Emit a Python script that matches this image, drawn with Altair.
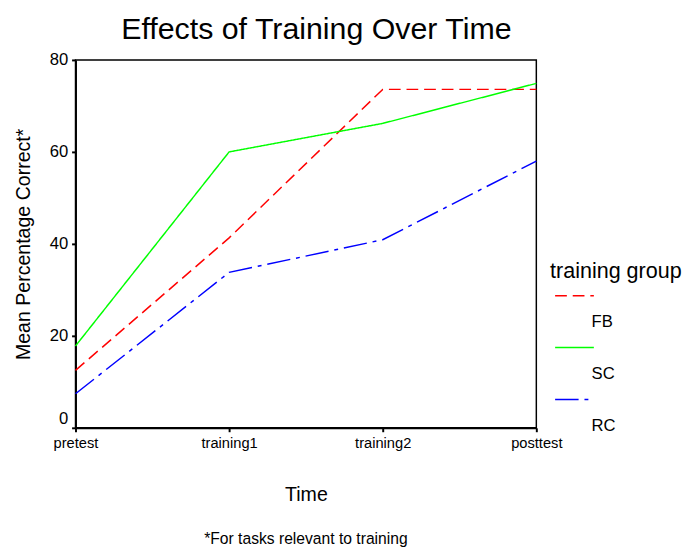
import altair as alt
import pandas as pd

times = ["pretest", "training1", "training2", "posttest"]
groups = ["FB", "SC", "RC"]
fb_vals = [12.5, 41.3, 73.6, 73.6]
sc_vals = [17.8, 60.0, 66.2, 74.9]
rc_vals = [7.4, 33.8, 40.9, 58.0]
colors = ["#FF0000", "#00FF00", "#0000FF"]
dashes = [[12, 6], [1, 0], [24, 6, 4, 6]]

rows = []
for g, vals in zip(groups, [fb_vals, sc_vals, rc_vals]):
    for t, v in zip(times, vals):
        rows.append({"Time": t, "group": g, "value": v})
df = pd.DataFrame(rows)

FONT = "Liberation Sans"
leg = alt.Legend(title="training group", labelExpr="['', datum.label]")

inner = alt.Chart(df).mark_line(strokeWidth=1.5).encode(
    x=alt.X("Time:N", sort=times,
            scale=alt.Scale(type="point", padding=0),
            axis=alt.Axis(title="Time", labelAngle=0, titlePadding=35)),
    y=alt.Y("value:Q", scale=alt.Scale(domain=[0, 80]),
            axis=alt.Axis(values=[0, 20, 40, 60, 80], title="Mean Percentage Correct*",
                          grid=False, titlePadding=16,
                          labelBaseline=alt.condition("datum.value == 0",
                                                      alt.value("bottom"),
                                                      alt.value("middle")))),
    color=alt.Color("group:N", scale=alt.Scale(domain=groups, range=colors), legend=leg),
    strokeDash=alt.StrokeDash("group:N", scale=alt.Scale(domain=groups, range=dashes),
                              legend=leg),
).properties(
    width=471, height=376,
    title=alt.Title("*For tasks relevant to training", orient="bottom",
                    fontSize=16, fontWeight="normal", font=FONT, offset=28),
)

chart = alt.vconcat(inner).properties(
    title=alt.Title("Effects of Training Over Time", fontSize=31, fontWeight="normal",
                    font=FONT, offset=5, anchor="middle", dx=-32),
    padding={"top": 0, "left": 5, "right": 5, "bottom": 5},
).configure_view(
    stroke="black", strokeWidth=1.5
).configure_axis(
    domainColor="black", domainWidth=2, tickColor="black", tickWidth=2, tickSize=4,
    labelFont=FONT, titleFont=FONT, labelColor="black", titleColor="black",
    titleFontWeight="normal", titleFontSize=20,
).configure_axisY(
    labelFontSize=17, labelPadding=4,
).configure_axisX(
    labelFontSize=15, labelPadding=4,
).configure_legend(
    orient="none", legendX=485, legendY=206, padding=0,
    titleFont=FONT, titleFontSize=22, titleFontWeight="normal", titleColor="black",
    labelFont=FONT, labelFontSize=17, labelColor="black",
    symbolType="M-1.2,0L1.2,0", symbolSize=1089, symbolStrokeWidth=1.5,
    symbolOffset=7.5, labelOffset=0, labelBaseline="top",
    rowPadding=-16.5, titlePadding=-4.5,
).configure_concat(spacing=0)

chart.save("out.html", embed_options={"renderer": "svg", "actions": False})
